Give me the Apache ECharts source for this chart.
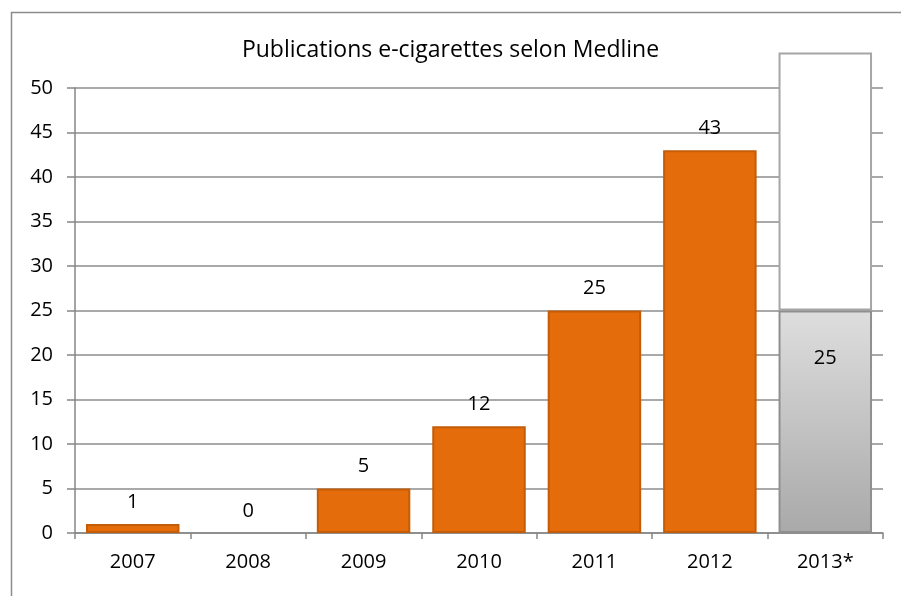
<!DOCTYPE html>
<html><head><meta charset="utf-8">
<script src="https://cdn.jsdelivr.net/npm/echarts@6/dist/echarts.min.js"></script>
<style>html,body{margin:0;padding:0;background:#fff}#c{width:901px;height:596px}</style>
</head><body><div id="c"></div>
<script>
const categories = ['2007','2008','2009','2010','2011','2012','2013*'];
const publications = [1, 0, 5, 12, 25, 43, null];
const partial2013 = [null, null, null, null, null, null, 25];
const projection2013 = [null, null, null, null, null, null, 29];
const yTicks = {min: 0, max: 50, interval: 5};
const titleText = 'Publications e-cigarettes selon Medline';

const FONT = '"Open Sans", Lato, sans-serif';
const pubData = publications.map(v => v === 0 ? {value: v, itemStyle: {borderWidth: 0, color: 'transparent'}} : v);
const chart = echarts.init(document.getElementById('c'), null, {renderer: 'canvas'});
chart.setOption({
  animation: false,
  backgroundColor: '#fff',
  graphic: [{
    type: 'rect', left: 9, top: 10, z: -1,
    shape: {width: 1000, height: 1000},
    style: {fill: 'none', stroke: '#8c8c8c', lineWidth: 1.5}
  }],
  title: {
    text: titleText, left: 'center', top: 34,
    textStyle: {fontFamily: FONT, fontSize: 23, fontWeight: 'normal', color: '#000'}
  },
  grid: {left: 75, right: 18, top: 88, bottom: 63},
  xAxis: {
    type: 'category', data: categories,
    axisLine: {lineStyle: {color: '#868686', width: 1.5}},
    axisTick: {show: true, length: 6, lineStyle: {color: '#868686', width: 1.5}},
    axisLabel: {fontFamily: FONT, fontSize: 20, color: '#000', margin: 19}
  },
  yAxis: {
    type: 'value', min: yTicks.min, max: yTicks.max, interval: yTicks.interval,
    axisLine: {show: true, lineStyle: {color: '#868686', width: 1.5}},
    axisTick: {show: true, length: 8, lineStyle: {color: '#868686', width: 1.5}},
    splitLine: {lineStyle: {color: '#8c8c8c', width: 1.5}},
    axisLabel: {fontFamily: FONT, fontSize: 20, color: '#000', margin: 22}
  },
  series: [
    {
      type: 'bar', stack: 'a', data: pubData, barCategoryGap: '19%',
      itemStyle: {
        color: '#e46c0a',
        borderColor: '#c45c08', borderWidth: 2
      },
      label: {show: true, position: 'top', distance: 12, fontFamily: FONT, fontSize: 20, color: '#000'}
    },
    {
      type: 'bar', stack: 'a', data: partial2013, barCategoryGap: '19%',
      itemStyle: {
        color: new echarts.graphic.LinearGradient(0, 0, 0, 1, [
          {offset: 0, color: '#dedede'}, {offset: 1, color: '#a9a9a9'}
        ]),
        borderColor: '#8f8f8f', borderWidth: 2
      },
      label: {show: true, position: 'insideTop', distance: 38, fontFamily: FONT, fontSize: 20, color: '#000'}
    },
    {
      type: 'bar', stack: 'a', data: projection2013, clip: false, barCategoryGap: '19%',
      itemStyle: {color: '#ffffff', borderColor: '#a6a6a6', borderWidth: 2},
      label: {show: false}
    }
  ]
});
</script></body></html>
